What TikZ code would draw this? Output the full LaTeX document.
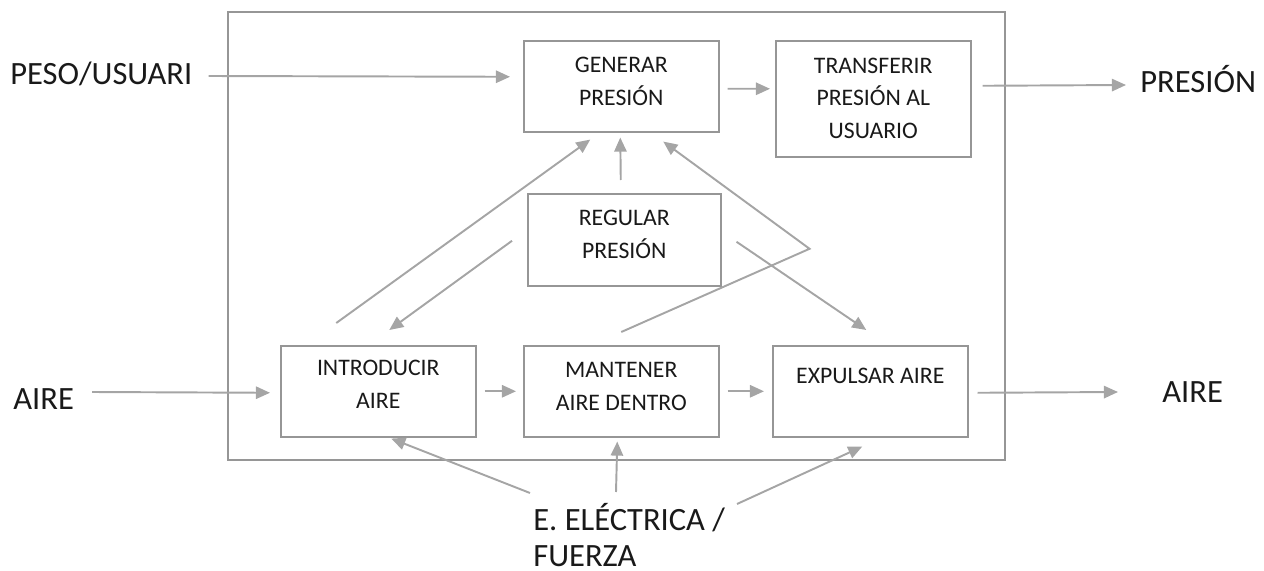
\documentclass[tikz,border=0pt]{standalone}
\usepackage{fontspec}
\setmainfont{Carlito}
\usetikzlibrary{arrows.meta,calc}

\definecolor{lineGray}{RGB}{165,165,165}
\definecolor{boxGray}{RGB}{150,150,150}
\definecolor{txtGray}{RGB}{25,25,25}

\tikzset{
  block/.style={draw=boxGray, line width=0.9pt, anchor=north west, align=center,
    text=txtGray, minimum width=3.9cm, minimum height=1.82cm, inner sep=2pt,
    text depth=5.3pt, font=\fontsize{13.5}{18.7}\selectfont},
  outside/.style={text=txtGray, inner sep=0pt, anchor=base west,
    font=\fontsize{18.5}{20.4}\selectfont},
  flow/.style={draw=lineGray, line width=1.1pt,
    -{Triangle[length=8pt,width=7pt]}}
}

\begin{document}
\begin{tikzpicture}[x=0.02cm, y=-0.02cm]
  \useasboundingbox (0,0) rectangle (1264,571);

  % system border
  \draw[boxGray, line width=0.9pt] (228,12) rectangle (1005,460);

  % functions
  \node[block] (gen) at (523,40) {GENERAR\\PRESIÓN};
  \node[block, minimum height=2.32cm, text depth=0.7pt] (tra) at (775,40) {TRANSFERIR\\PRESIÓN AL\\USUARIO};
  \node[block, minimum width=3.86cm, minimum height=1.84cm, text depth=5.8pt] (reg) at (527,193) {REGULAR\\PRESIÓN};
  \node[block, text depth=7.6pt] (intro) at (280,345) {INTRODUCIR\\AIRE};
  \node[block] (mant) at (523,345) {MANTENER\\AIRE DENTRO};
  \node[block, text depth=17.2pt] (expu) at (772,345) {EXPULSAR AIRE};

  % inputs and outputs
  \node[outside] (peso) at (10,85) {PESO/USUARI};
  \node[outside] (pres) at (1140,92) {PRESIÓN};
  \node[outside] (airl) at (13,409) {AIRE};
  \node[outside] (airr) at (1162,402) {AIRE};
  \node[outside, align=left] (elec) at (533,566) {E. ELÉCTRICA /\\FUERZA};

  % main flow
  \draw[flow] ($(peso.base east)+(16,-9)$) -- ($(gen.west)+(-13,-9.5)$);
  \draw[flow] ($(gen.east)+(8,2.5)$) -- ($(tra.west)+(-5,-10)$);
  \draw[flow] ($(tra.east)+(11,-13)$) -- ($(pres.base west)+(-14,-7)$);
  \draw[flow] ($(airl.base east)+(18,-17)$) -- ($(intro.west)+(-10,1.5)$);
  \draw[flow] ($(intro.east)+(8,0)$) -- ($(mant.west)+(-7,0)$);
  \draw[flow] ($(mant.east)+(8,0)$) -- ($(expu.west)+(-8,0)$);
  \draw[flow] ($(expu.east)+(9,1.5)$) -- ($(airr.base west)+(-44,-10)$);

  % feedback around the regulator
  \coordinate (kneeBot) at ($(mant.north)+(0,-13)$);
  \coordinate (kneeTop) at ($(reg.east)+(88,9)$);
  \draw[flow] ($(intro.north)+(-42,-22)$) -- ($(gen.south)+(-31,7)$);
  \draw[flow] ($(reg.north)+(-3.5,-13)$) -- ($(gen.south)+(-1,5)$);
  \draw[flow] (kneeBot) -- (kneeTop) -- ($(gen.south)+(42,9)$);
  \draw[flow] ($(reg.west)+(-15,1)$) -- ($(intro.north)+(11,-15)$);
  \draw[flow] ($(reg.east)+(15,2)$) -- ($(expu.north)+(-4,-15)$);

  % energy input
  \draw[flow] ($(elec.base west)+(-3,-73)$) -- ($(intro.south)+(13,1)$);
  \draw[flow] ($(elec.base west)+(83,-74)$) -- ($(mant.south)+(-4,4)$);
  \draw[flow] ($(elec.base west)+(204,-62)$) -- ($(expu.south)+(-8,9)$);
\end{tikzpicture}
\end{document}
